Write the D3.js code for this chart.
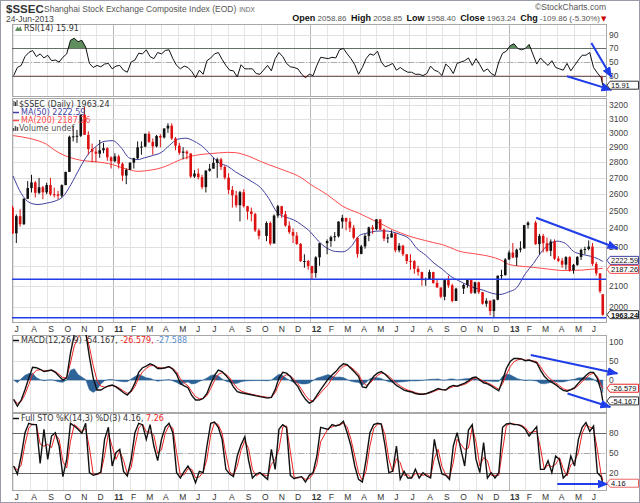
<!DOCTYPE html>
<html>
<head>
<meta charset="utf-8">
<script src="https://cdn.jsdelivr.net/npm/d3@7"></script>
<style>
body { margin: 0; background: #fff; }
svg text { font-family: "DejaVu Sans", Verdana, sans-serif; }
svg text.ax { font-family: "Liberation Sans", Arial, sans-serif; }
</style>
</head>
<body>
<svg id="chart" width="640" height="503"></svg>
<script>
// weekly bars (Friday closes from 2-Jul-2010) plus the 24-Jun-2013 session; null = market closed
var weekClose = [
  2373,2470,2424,2572,2637, 2672,2608,2642,2611, 2656,2599,2598,2590, 2655,2738,2972,2975,2979, 3129,2985,2888,2871, 2857,2880,2894,2833,2808,
  2839,2791,2715,2752, 2798,2827,2900,2905, 2992,2937,2906,2977, 2967,3030,3050,2960,2911, 2863,2871,2858,2709, 2728,2705,2643,2746,
  2759,2797,2820,2770,2702, 2626,2593,2534,2612, 2528,2497,2482,2389,2359, null,2431,2317,2473, 2528,2481,2416,2380, 2360,2315,2224,2225,2199,
  2163,2244,2319,null, 2331,2352,2357,2439, 2460,2439,2404,2349,2262, 2302,2359,2406,2396, 2452,2394,2344,2350, 2373,2281,2306,2260,2225,
  2224,2185,2168,2128, 2133,2168,2114,2092,2047, 2128,2102,2027,2086, null,2104,2128,2066, 2117,2069,2014,2028,1980, 2033,2150,2153,2233,
  2269,2243,2284,2291, 2419,2433,null,2314, 2359,2319,2278,2328,2237, 2226,2206,2245,2177, 2205,2246,2283,2288,2301, 2210,2162,2073,1963.24
];
var weekHigh = [
  2530,2480,2510,2575,2680, 2720,2680,2700,2650, 2670,2700,2640,2620, 2660,2740,2980,3050,3020, 3130,3186,3010,2925, 2900,2950,2930,2900,2840,
  2860,2850,2800,2760, 2800,2830,2940,2940, 2995,3010,2960,2985, 2990,3030,3067,3067,2970, 2930,2900,2880,2860, 2750,2760,2720,2750,
  2790,2830,2830,2830,2780, 2730,2650,2620,2620, 2630,2530,2520,2490,2400, null,2440,2440,2480, 2536,2530,2500,2440, 2400,2380,2320,2260,2230,
  2200,2250,2320,null, 2340,2360,2380,2440, 2478,2460,2460,2420,2350, 2310,2370,2410,2420, 2453,2450,2400,2370, 2390,2370,2320,2310,2260,
  2260,2230,2200,2170, 2140,2180,2170,2130,2090, 2130,2150,2110,2090, null,2110,2130,2130, 2120,2120,2070,2040,2030, 2035,2150,2180,2240,
  2280,2320,2290,2330, 2420,2440,null,2444, 2370,2370,2350,2340,2340, 2250,2240,2250,2250, 2210,2250,2290,2300,2334, 2320,2220,2160,2059
];
var weekLow = [
  2370,2320,2410,2420,2570, 2610,2580,2600,2570, 2600,2590,2580,2570, 2580,2680,2740,2940,2930, 2970,2990,2850,2800, 2800,2830,2860,2810,2760,
  2800,2760,2680,2661, 2750,2760,2820,2850, 2900,2930,2850,2900, 2900,2960,3000,2950,2880, 2850,2820,2820,2700, 2700,2690,2630,2610,
  2740,2760,2700,2750,2690, 2600,2520,2520,2440, 2520,2450,2440,2380,2340, null,2330,2307,2320, 2460,2460,2410,2370, 2320,2310,2220,2190,2180,
  2132,2140,2200,null, 2260,2300,2330,2350, 2400,2390,2380,2340,2242, 2260,2290,2330,2370, 2390,2390,2330,2320, 2350,2270,2270,2250,2210,
  2180,2160,2150,2100, 2100,2130,2110,2090,2040, 2030,2090,2020,2029, null,2060,2090,2060, 2060,2060,2010,2000,1960, 1949,2030,2130,2150,
  2230,2240,2200,2270, 2290,2400,null,2310, 2260,2270,2270,2250,2230, 2220,2190,2180,2170, 2160,2200,2230,2260,2280, 2200,2150,2064,1958.4
];
var firstOpen = 2520, lastOpen = 2058.86;

// moving averages read on the 1st and 16th of each month, then 24-Jun-2013
var ma50 = [
  2712,2605,2548,2538,2546,2558,2585,2660,2762,2850,2905,2940,
  2945,2900,2828,2818,2830,2845,2866,2914,2955,2962,2940,2905,2850,2797,2775,2738,2706,2675,2640,2575,2490,2465,2449,2420,
  2381,2330,2292,2275,2273,2300,2362,2375,2385,2387,2380,2366,2345,2290,2255,2215,2182,2147,2125,2105,2088,2078,2064,2058,
  2070,2090,2160,2212,2266,2312,2330,2318,2275,2260,2250,2235,2222.59
];
var ma200 = [
  2980,2972,2960,2945,2920,2880,2850,2830,2815,2808,2803,2797,
  2785,2768,2752,2742,2745,2752,2765,2785,2810,2830,2845,2853,2858,2862,2866,2864,2850,2830,2806,2785,2765,2745,2726,2700,
  2660,2630,2597,2560,2527,2505,2485,2462,2440,2418,2393,2375,2358,2345,2333,2322,2311,2295,2277,2268,2262,2255,2246,2232,
  2208,2200,2196,2192,2188,2183,2178,2176,2177,2178,2182,2185,2187.26
];

// indicators at the weekly dates
var rsi = [
  30,42,45,58,64,67,58,62,56,60, 52,53,50,57,62,82,85,80,82,72, 48,42,45,43,47,48,40,44,45,38,
  35,50,53,63,62,68,58,55,64,62, 67,68,55,45,40,44,42,36,27,38, 32,52,56,62,64,54,45,38,37,28,
  46,40,40,40,33,32,null,45,37,55, 64,58,48,43,42,40,32,27,32,30, 45,57,null,55,57,56,68,70,62,55,
  46,32,42,55,62,60,66,50,43,45, 48,38,42,38,35,35,32,32,30,33, 44,38,36,30,47,42,33,48,null,52,
  56,45,55,46,36,40,33,30,50,63, 66,74,77,70,68,70,76,null,47,56, 50,45,52,42,40,38,48,37,45,53,
  60,60,64,42,34,27,15.91
];
var macd = [
  -50,-68,-52,-25,5,33,32,28,22,24, 26,20,10,0,6,70,118,125,130,125, 60,5,-26,-26,-20,-15,-13,-18,-25,-33,
  -39,-28,-8,20,32,36,42,38,30,30, 32,35,28,15,-9,-15,-20,-40,-52,-52, -48,-35,-10,12,26,22,12,0,-18,-30,
  -33,-35,-37,-39,-41,-43,null,-47,-45,-25, 5,20,18,9,-5,-17,-35,-50,-60,-55, -40,-25,null,3,13,22,34,42,40,30,
  20,9,-18,-20,-5,10,18,22,15,5, -5,-14,-20,-26,-29,-31,-35,-37,-37,-35, -31,-27,-22,-25,-26,-18,-14,-16,null,-8,
  -2,6,8,0,-7,-10,-15,-22,-28,0, 30,48,56,56,55,50,52,null,45,26, 10,0,-6,-12,-20,-27,-29,-25,-20,-8,
  2,12,20,20,4,-28,-54.167
];
var stoK = [
  30,18,45,80,94,92,92,34,85,40, 75,80,60,14,40,94,90,85,79,94, 20,16,18,21,70,88,30,50,55,22,
  15,40,80,94,92,70,92,60,38,70, 88,94,80,20,12,22,30,20,5,22, 20,60,94,96,88,70,25,18,14,45,
  62,74,38,12,18,20,null,10,55,25, 85,92,88,16,11,13,14,6,16,20, 45,88,null,85,92,90,92,97,80,60,
  30,10,6,40,80,92,94,93,60,20, 22,60,10,22,12,12,25,12,20,15, 12,70,40,18,16,10,60,80,null,30,
  84,92,40,20,65,12,20,12,20,88, 93,94,92,92,90,85,75,null,89,25, 25,38,20,45,40,12,18,45,30,70,
  88,95,82,90,20,14,4.16
];

var priceTicks = [2000,2100,2200,2300,2400,2500,2600,2700,2800,2900,3000,3100,3200];
var rsiTicks = [90,70,50,30];
var macdTicks = [100,50,0];
var stoTicks = [80,50,20];
var supportLevels = [2132, 1949];

// hand-drawn trend arrows: [from date, from value, to date, to value]
var rsiArrows = [[new Date(2013,5,3),78,new Date(2013,6,10),28],[new Date(2013,3,19),29,new Date(2013,6,10),9]];
var priceArrows = [[new Date(2013,1,21),2461,new Date(2013,6,21),2292]];
var macdArrows = [[new Date(2013,1,11),65,new Date(2013,6,21),17],[new Date(2013,3,20),-35,new Date(2013,6,8),-70]];
var stoArrows = [[new Date(2013,3,1),3,new Date(2013,6,3),3]];

var weekDates = d3.timeFriday.range(new Date(2010,6,2), new Date(2013,5,22));
weekDates.push(new Date(2013,5,24));
var maDates = [];
d3.timeMonth.range(new Date(2010,6,1), new Date(2013,6,1)).forEach(function(m) {
    maDates.push(m, d3.timeDay.offset(m, 15));
});
maDates.push(new Date(2013,5,24));

var svg = d3.select('#chart');
var left = 12, right = 606;
var blue = '#1f3de8';

var x = d3.scaleTime().domain([new Date(2010,5,29), new Date(2013,5,30)]).range([left, right]);

var pRsi = {top:24, bottom:96}, pPrice = {top:98, bottom:322},
    pMacd = {top:335, bottom:412}, pSto = {top:413, bottom:490};

var yRsi = d3.scaleLinear().domain([0,106]).range([pRsi.bottom, pRsi.top]);
var yPrice = d3.scaleLog().domain([1930,3253]).range([pPrice.bottom, pPrice.top]);
var yMacd = d3.scaleLinear().domain([-83,117]).range([pMacd.bottom, pMacd.top]);
var ySto = d3.scaleLinear().domain([-6,109.5]).range([pSto.bottom, pSto.top]);

var defs = svg.append('defs');
defs.append('marker').attr('id','arrow').attr('markerUnits','userSpaceOnUse')
    .attr('viewBox','0 0 10 8').attr('markerWidth',11).attr('markerHeight',9)
    .attr('refX',9).attr('refY',4).attr('orient','auto')
  .append('path').attr('d','M0,0L10,4L0,8z').attr('fill',blue);

// outer frame
svg.append('rect').attr('x',0.5).attr('y',0.5).attr('width',639).attr('height',502)
    .attr('fill','none').attr('stroke','#9a9aa8');

// one row per trading week
var rows = weekDates.map(function(d,i) {
    return {d:d, c:weekClose[i], h:weekHigh[i], l:weekLow[i], rsi:rsi[i], macd:macd[i], k:stoK[i]};
});
var prev = firstOpen;
rows.forEach(function(r,i) {
    if (r.c == null) { return; }
    r.o = (i === rows.length - 1) ? lastOpen : prev;
    prev = r.c;
});
rows = rows.filter(function(r) { return r.c != null; });

// signal line (EMA of MACD) and %D (average of %K)
var s = null;
rows.forEach(function(r,i) {
    var a = i === rows.length - 1 ? 0.2 : 0.6;
    s = s == null ? r.macd : s + a * (r.macd - s);
    r.sig = s;
    r.hist = r.macd - s;
    r.dd = i === 0 ? r.k : (r.k + rows[i-1].k) / 2;
});
var last = rows[rows.length - 1];

// last-value box positions; the two moving-average boxes are pushed apart
var yMa50 = yPrice(ma50[ma50.length-1]), yMa200 = yPrice(ma200[ma200.length-1]);
var gap = Math.max(0, 9 - (yMa200 - yMa50)) / 2;
var priceBoxes = [yMa50 - gap, yMa200 + gap, yPrice(last.c)];

var months = d3.timeMonth.range(new Date(2010,6,1), new Date(2013,6,1));

function panel(p, y, ticks, id, hidden) {
    var g = svg.append('g');
    defs.append('clipPath').attr('id','clip-'+id)
      .append('rect').attr('x',left).attr('y',p.top).attr('width',right-left).attr('height',p.bottom-p.top);
    g.selectAll('.vg').data(months).enter().append('line')
        .attr('x1',function(d){return Math.round(x(d))+0.5;}).attr('x2',function(d){return Math.round(x(d))+0.5;})
        .attr('y1',p.top).attr('y2',p.bottom)
        .attr('stroke',function(d){return d.getMonth()===0 ? '#b8b8b8' : '#e4e4e4';});
    g.selectAll('.hg').data(ticks).enter().append('line')
        .attr('x1',left).attr('x2',right)
        .attr('y1',function(d){return Math.round(y(d))+0.5;}).attr('y2',function(d){return Math.round(y(d))+0.5;})
        .attr('stroke','#e0e0e0');
    g.append('rect').attr('x',left+0.5).attr('y',p.top+0.5).attr('width',right-left).attr('height',p.bottom-p.top)
        .attr('fill','none').attr('stroke','#a8a8a8');
    // tick labels that sit under a value box are covered in the original
    var shown = ticks.filter(function(t) {
        return !(hidden || []).some(function(b) { return Math.abs(y(t) - b) < 7; });
    });
    svg.append('g').selectAll('text').data(shown).enter().append('text').attr('class','ax')
        .attr('x',right+3).attr('y',function(d){return y(d)+3;})
        .attr('font-size',8.5).attr('fill','#444').text(function(d){return d;});
    return svg.append('g').attr('clip-path','url(#clip-'+id+')');
}

function level(g, y, v, color, dash) {
    g.append('line').attr('x1',left).attr('x2',right)
        .attr('y1',Math.round(y(v))+0.5).attr('y2',Math.round(y(v))+0.5)
        .attr('stroke',color).attr('stroke-dasharray',dash || null);
}

function monthLabels(yy) {
    svg.append('g').selectAll('text').data(months).enter().append('text').attr('class','ax')
        .attr('x',function(d){return x(d)+1.5;}).attr('y',yy)
        .attr('font-size',8.5).attr('fill','#333')
        .attr('font-weight',function(d){return d.getMonth()===0 ? 'bold' : null;})
        .text(function(d){return d.getMonth()===0 ? d3.timeFormat('%y')(d) : d3.timeFormat('%b')(d)[0];});
}

function valueBox(yv, label, color, bold) {
    var g = svg.append('g');
    g.append('path').attr('d','M'+(right+1)+','+yv+'L'+(right+4)+','+(yv-4)+'H638.5V'+(yv+4)+'H'+(right+4)+'Z')
        .attr('fill','#fff').attr('stroke',color);
    g.append('text').attr('class','ax').attr('x',right+5).attr('y',yv+3).attr('font-size',7.5)
        .attr('font-weight',bold ? 'bold' : null).attr('fill','#111').text(label);
}

function arrows(list, y) {
    svg.append('g').selectAll('line').data(list).enter().append('line')
        .attr('x1',function(a){return x(a[0]);}).attr('y1',function(a){return y(a[1]);})
        .attr('x2',function(a){return x(a[2]);}).attr('y2',function(a){return y(a[3]);})
        .attr('stroke',blue).attr('stroke-width',2).attr('marker-end','url(#arrow)');
}

// ---------- header
svg.append('text').attr('class','ax').attr('x',6).attr('y',13).attr('font-size',11.5).attr('font-weight','bold')
    .attr('fill','#333').text('$SSEC');
var title = svg.append('text').attr('class','ax').attr('x',44).attr('y',12).attr('font-size',8.5).attr('fill','#555')
    .text('Shanghai Stock Exchange Composite Index (EOD)');
svg.append('text').attr('class','ax').attr('x',44 + title.node().getComputedTextLength() + 3).attr('y',12)
    .attr('font-size',6.5).attr('fill','#666').text('INDX');
svg.append('text').attr('class','ax').attr('x',6).attr('y',22).attr('font-size',8.5).attr('fill','#444').text('24-Jun-2013');
svg.append('text').attr('class','ax').attr('x',606).attr('y',10).attr('font-size',8.5).attr('text-anchor','end').attr('fill','#555')
    .text('\u00a9StockCharts.com');
var quote = svg.append('text').attr('class','ax').attr('x',600).attr('y',21).attr('text-anchor','end').attr('font-size',8);
[['Open',' 2058.86  '],['High',' 2058.85  '],['Low',' 1958.40  '],['Close',' 1963.24  '],['Chg',' -109.86 (-5.30%)']].forEach(function(q) {
    quote.append('tspan').attr('font-weight','bold').attr('font-size',9).attr('fill','#111').text(q[0]);
    quote.append('tspan').attr('fill','#555').attr('xml:space','preserve').text(q[1]);
});
svg.append('text').attr('x',601).attr('y',21).attr('font-size',7).attr('fill','#c00').text('\u25bc');

// ---------- RSI
var gR = panel(pRsi, yRsi, rsiTicks, 'rsi', [yRsi(last.rsi)]);
level(gR, yRsi, 70, '#666');
level(gR, yRsi, 30, '#666');
level(gR, yRsi, 50, '#aaa', '6,2,1,2');
defs.append('clipPath').attr('id','above70').append('rect')
    .attr('x',left).attr('y',pRsi.top).attr('width',right-left).attr('height',yRsi(70)-pRsi.top);
defs.append('clipPath').attr('id','below30').append('rect')
    .attr('x',left).attr('y',yRsi(30)).attr('width',right-left).attr('height',pRsi.bottom-yRsi(30));
gR.append('path').datum(rows).attr('clip-path','url(#above70)').attr('fill','#5f8f5f')
    .attr('d',d3.area().x(function(r){return x(r.d);}).y0(yRsi(70)).y1(function(r){return yRsi(r.rsi);}));
gR.append('path').datum(rows).attr('clip-path','url(#below30)').attr('fill','#b03030')
    .attr('d',d3.area().x(function(r){return x(r.d);}).y0(yRsi(30)).y1(function(r){return yRsi(r.rsi);}));
gR.append('path').datum(rows).attr('fill','none').attr('stroke','#111').attr('stroke-width',1)
    .attr('d',d3.line().x(function(r){return x(r.d);}).y(function(r){return yRsi(r.rsi);}));
svg.append('path').attr('d','M15,31L17.5,26.5L19,28.5L20.5,26L22,31Z').attr('fill','#5f8f5f');
svg.append('text').attr('x',24).attr('y',31).attr('font-size',8).attr('fill','#333').text('RSI(14) 15.91');

// ---------- price
var gP = panel(pPrice, yPrice, priceTicks, 'price', priceBoxes);
gP.append('path').datum(ma200).attr('fill','none').attr('stroke','#ff4a4a').attr('stroke-width',1)
    .attr('d',d3.line().curve(d3.curveMonotoneX).x(function(v,i){return x(maDates[i]);}).y(function(v){return yPrice(v);}));
gP.append('path').datum(ma50).attr('fill','none').attr('stroke','#3f3f9f').attr('stroke-width',1)
    .attr('d',d3.line().curve(d3.curveMonotoneX).x(function(v,i){return x(maDates[i]);}).y(function(v){return yPrice(v);}));
var bar = gP.selectAll('.bar').data(rows).enter().append('g');
function bx(r, i) { return x(i === rows.length - 1 ? r.d : d3.timeDay.offset(r.d, -2)); }
function bc(r) { return r.c >= r.o ? '#111' : '#dd1111'; }
bar.append('line')
    .attr('x1',bx).attr('x2',bx)
    .attr('y1',function(r){return yPrice(r.h);}).attr('y2',function(r){return yPrice(r.l);})
    .attr('stroke',bc).attr('stroke-width',1);
bar.append('rect')
    .attr('x',function(r,i){return bx(r,i)-1.3;}).attr('width',2.6)
    .attr('y',function(r){return yPrice(Math.max(r.o,r.c));})
    .attr('height',function(r){return Math.max(1, yPrice(Math.min(r.o,r.c)) - yPrice(Math.max(r.o,r.c)));})
    .attr('fill',bc);
gP.selectAll('.support').data(supportLevels).enter().append('line')
    .attr('x1',left).attr('x2',right)
    .attr('y1',function(v){return yPrice(v);}).attr('y2',function(v){return yPrice(v);})
    .attr('stroke',blue).attr('stroke-width',1.6);
svg.append('path').attr('d','M14,106V101M15.5,106V102M17,106V100').attr('stroke','#333');
svg.append('text').attr('x',19).attr('y',107).attr('font-size',8).attr('fill','#333').text('$SSEC (Daily) 1963.24');
var legend = [['MA(50) 2222.59','#3f3f9f'],['MA(200) 2187.26','#ff4a4a']];
legend.forEach(function(l,i) {
    svg.append('line').attr('x1',13).attr('x2',19).attr('y1',112.5+8*i).attr('y2',112.5+8*i)
        .attr('stroke',l[1]).attr('stroke-width',1.5);
    svg.append('text').attr('x',21).attr('y',115+8*i).attr('font-size',8).attr('fill',l[1]).text(l[0]);
});
svg.append('path').attr('d','M13.5,131V128M15.5,131V126M17.5,131V127').attr('stroke','#555').attr('stroke-width',1.5);
svg.append('text').attr('x',19).attr('y',131).attr('font-size',8).attr('fill','#555').text('Volume undef');
monthLabels(332);

// ---------- MACD
var gM = panel(pMacd, yMacd, macdTicks, 'macd', [yMacd(last.sig), yMacd(last.macd)]);
gM.append('path').datum(rows).attr('fill','#2d6397').attr('stroke','#2d6397').attr('stroke-width',0.5)
    .attr('d',d3.area().x(function(r){return x(r.d);}).y0(yMacd(0)).y1(function(r){return yMacd(r.hist);}));
gM.append('path').datum(rows).attr('fill','none').attr('stroke','#ee2222').attr('stroke-width',1)
    .attr('d',d3.line().x(function(r){return x(r.d);}).y(function(r){return yMacd(r.sig);}));
gM.append('path').datum(rows).attr('fill','none').attr('stroke','#111').attr('stroke-width',1.4)
    .attr('d',d3.line().x(function(r){return x(r.d);}).y(function(r){return yMacd(r.macd);}));
svg.append('line').attr('x1',13).attr('x2',19).attr('y1',340.5).attr('y2',340.5).attr('stroke','#111').attr('stroke-width',1.5);
var mt = svg.append('text').attr('x',21).attr('y',343).attr('font-size',8).attr('fill','#333');
mt.append('tspan').text('MACD(12,26,9) -54.167, ');
mt.append('tspan').attr('fill','#ee2222').text('-26.579, ');
mt.append('tspan').attr('fill','#5b8fd0').text('-27.588');

// ---------- Full STO
var gS = panel(pSto, ySto, stoTicks, 'sto', [ySto(last.k)]);
level(gS, ySto, 80, '#666');
level(gS, ySto, 20, '#666');
level(gS, ySto, 50, '#aaa', '6,2,1,2');
gS.append('path').datum(rows).attr('fill','none').attr('stroke','#ee2222').attr('stroke-width',1)
    .attr('d',d3.line().x(function(r){return x(r.d);}).y(function(r){return ySto(r.dd);}));
gS.append('path').datum(rows).attr('fill','none').attr('stroke','#111').attr('stroke-width',1.4)
    .attr('d',d3.line().x(function(r){return x(r.d);}).y(function(r){return ySto(r.k);}));
svg.append('line').attr('x1',13).attr('x2',19).attr('y1',418.5).attr('y2',418.5).attr('stroke','#111').attr('stroke-width',1.5);
var st = svg.append('text').attr('x',21).attr('y',421).attr('font-size',8).attr('fill','#333');
st.append('tspan').text('Full STO %K(14,3) %D(3) 4.16, ');
st.append('tspan').attr('fill','#ee2222').text('7.26');
monthLabels(500);

// ---------- annotations and last-value boxes
arrows(rsiArrows, yRsi);
arrows(priceArrows, yPrice);
arrows(macdArrows, yMacd);
arrows(stoArrows, ySto);
valueBox(yRsi(last.rsi), '15.91', '#333');
valueBox(priceBoxes[0], '2222.59', '#3f3f9f');
valueBox(priceBoxes[1], '2187.26', '#ff4a4a');
valueBox(priceBoxes[2], '1963.24', '#333', true);
valueBox(yMacd(last.sig), '-26.579', '#ee2222');
valueBox(yMacd(last.macd), '-54.167', '#333');
valueBox(ySto(last.k), '4.16', '#ee6666');
</script>
</body>
</html>
